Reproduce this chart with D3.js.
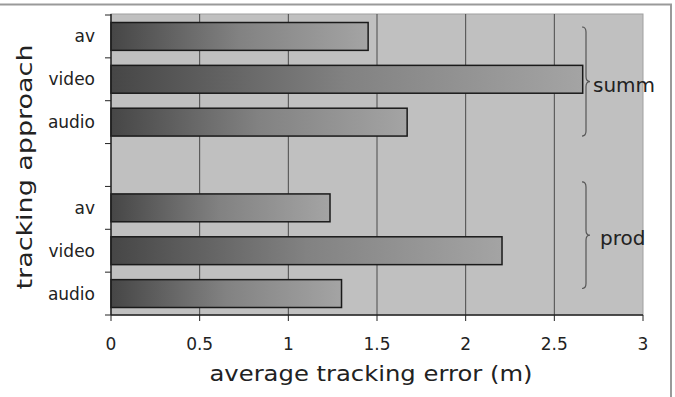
<!DOCTYPE html>
<html><head><meta charset="utf-8">
<script src="https://cdn.jsdelivr.net/npm/d3@7"></script>
<style>html,body{margin:0;padding:0;background:#fff;}svg{display:block;font-family:"DejaVu Sans",Verdana,sans-serif;}</style>
</head><body>
<svg id="c" width="675" height="397"></svg>
<script>
const groups = ["summ", "prod"];
const approaches = ["av", "video", "audio"];
const summValues = [1.45, 2.66, 1.67];
const prodValues = [1.235, 2.205, 1.30];
const xTicks = [0, 0.5, 1, 1.5, 2, 2.5, 3];
const xTickLabels = ["0", "0.5", "1", "1.5", "2", "2.5", "3"];
const xTitle = "average tracking error (m)";
const yTitle = "tracking approach";

const rows = [];
groups.forEach((g, gi) => {
  if (gi > 0) rows.push({key: "gap" + gi, label: "", group: null, value: null});
  const vals = gi === 0 ? summValues : prodValues;
  approaches.forEach((a, i) => rows.push({key: g + "-" + a, label: a, group: g, value: vals[i]}));
});

const svg = d3.select("#c");
const L = 111, R = 643, T = 15, B = 315;
const x = d3.scaleLinear().domain([0, 3]).range([L, R]);
const y = d3.scaleBand().domain(rows.map(d => d.key)).range([T, B]).paddingInner(0.35).paddingOuter(0.175);

// outer frame
svg.append("rect").attr("x", -5).attr("y", 4.5).attr("width", 676).attr("height", 400)
  .attr("fill", "none").attr("stroke", "#9a9a9a").attr("stroke-width", 2);

// gradient
const defs = svg.append("defs");
const grad = defs.append("linearGradient").attr("id", "bg").attr("x1", 0).attr("x2", 1).attr("y1", 0).attr("y2", 0);
grad.append("stop").attr("offset", 0).attr("stop-color", "#464646");
grad.append("stop").attr("offset", 0.5).attr("stop-color", "#828282");
grad.append("stop").attr("offset", 1).attr("stop-color", "#a4a4a4");

// plot bg
svg.append("rect").attr("x", L).attr("y", T - 1).attr("width", R - L).attr("height", B - T + 1)
  .attr("fill", "#c0c0c0").attr("stroke", "#a0a0a0").attr("stroke-width", 1);

// grid
svg.append("g").selectAll("line").data(xTicks.filter(t => t > 0 && t < 3)).join("line")
  .attr("x1", d => x(d)).attr("x2", d => x(d)).attr("y1", T - 1).attr("y2", B)
  .attr("stroke", "#4a4a4a").attr("stroke-width", 1);

// bars
svg.append("g").selectAll("rect").data(rows.filter(d => d.value != null)).join("rect")
  .attr("x", x(0)).attr("y", d => y(d.key)).attr("width", d => x(d.value) - x(0)).attr("height", y.bandwidth())
  .attr("fill", "url(#bg)").attr("stroke", "#1a1a1a").attr("stroke-width", 1.5);

// axes lines
svg.append("line").attr("x1", L).attr("x2", L).attr("y1", T - 1).attr("y2", B).attr("stroke", "#222").attr("stroke-width", 1.5);
svg.append("line").attr("x1", L).attr("x2", R).attr("y1", B).attr("y2", B).attr("stroke", "#222").attr("stroke-width", 1.5);

// y ticks at band boundaries
const bounds = rows.map(d => y(d.key) - y.step() * y.paddingInner() / 2).concat([B]);
bounds[0] = T;
svg.append("g").selectAll("line").data(bounds).join("line")
  .attr("x1", L - 6).attr("x2", L).attr("y1", d => d).attr("y2", d => d).attr("stroke", "#222").attr("stroke-width", 1);
// x ticks
svg.append("g").selectAll("line").data(xTicks).join("line")
  .attr("x1", d => x(d)).attr("x2", d => x(d)).attr("y1", B).attr("y2", B + 6).attr("stroke", "#222").attr("stroke-width", 1);

// x tick labels
svg.append("g").selectAll("text").data(xTicks).join("text")
  .attr("x", d => x(d)).attr("y", 344).attr("text-anchor", "middle").attr("dominant-baseline", "central")
  .attr("font-size", 17).attr("fill", "#222").text((d, i) => xTickLabels[i]);

// category labels
svg.append("g").selectAll("text").data(rows.filter(d => d.label)).join("text")
  .attr("x", 95).attr("y", d => y(d.key) + y.bandwidth() / 2).attr("text-anchor", "end").attr("dominant-baseline", "central")
  .attr("font-size", 17).attr("fill", "#222").text(d => d.label);

// titles
svg.append("text").attr("x", 371).attr("y", 373).attr("text-anchor", "middle").attr("dominant-baseline", "central")
  .attr("font-size", 22).attr("fill", "#222").attr("textLength", 323).attr("lengthAdjust", "spacingAndGlyphs").text(xTitle);
svg.append("text").attr("transform", "translate(24,167) rotate(-90)").attr("text-anchor", "middle").attr("dominant-baseline", "central")
  .attr("font-size", 22).attr("fill", "#222").attr("textLength", 245).attr("lengthAdjust", "spacingAndGlyphs").text(yTitle);

// braces
const braceOffsets = {summ: [4.5, 0], prod: [-12, -19]};
const textDx = {summ: 11, prod: 18};
groups.forEach(g => {
  const gr = rows.filter(d => d.group === g);
  const top = y(gr[0].key) + braceOffsets[g][0];
  const bot = y(gr[gr.length - 1].key) + y.bandwidth() + braceOffsets[g][1];
  const mid = (top + bot) / 2;
  const x0 = 582, w = 4, r = 5;
  const p = `M${x0},${top} Q${x0 + w},${top} ${x0 + w},${top + r} L${x0 + w},${mid - r} Q${x0 + w},${mid} ${x0 + 2 * w},${mid} Q${x0 + w},${mid} ${x0 + w},${mid + r} L${x0 + w},${bot - r} Q${x0 + w},${bot} ${x0},${bot}`;
  svg.append("path").attr("d", p).attr("fill", "none").attr("stroke", "#555").attr("stroke-width", 1.2);
  svg.append("text").attr("x", x0 + textDx[g]).attr("y", mid + 3).attr("dominant-baseline", "central")
    .attr("font-size", 20).attr("fill", "#222").text(g);
});
</script>
</body></html>
